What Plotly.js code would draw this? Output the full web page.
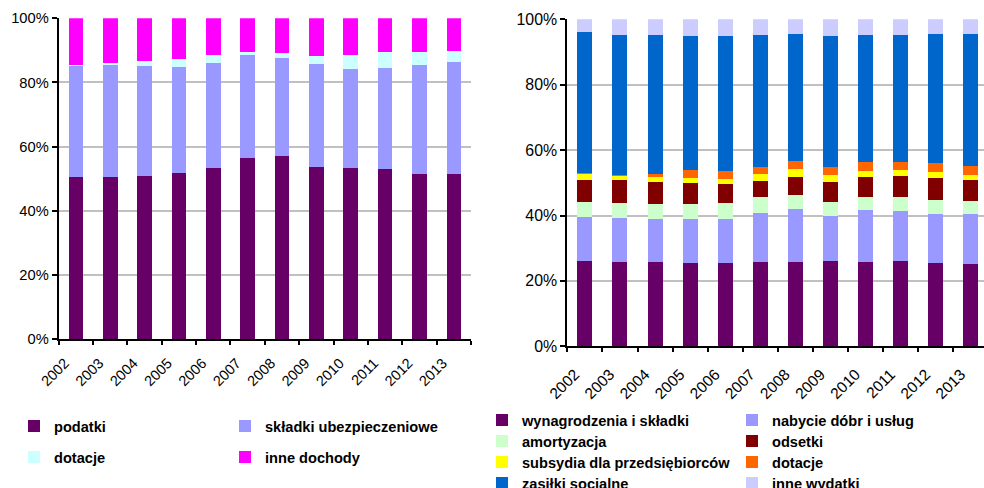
<!DOCTYPE html>
<html><head><meta charset="utf-8">
<script src="https://cdn.plot.ly/plotly-3.0.1.min.js"></script>
<style>html,body{margin:0;padding:0;overflow:hidden;background:#fff;width:984px;height:488px}#c{width:990px;height:500px}</style>
</head><body><div id="c"></div>
<script>
const years = ['2002','2003','2004','2005','2006','2007','2008','2009','2010','2011','2012','2013'];
// Left chart: revenues structure (%)
const podatki = [50.5,50.5,50.8,51.8,53.3,56.4,57.1,53.6,53.3,53.0,51.5,51.5];
const skladkiUbezp = [34.7,34.9,34.3,33.0,32.8,32.2,30.5,32.1,30.9,31.5,33.9,34.9];
const dotacjeDoch = [0.2,0.7,1.6,2.5,2.5,0.9,1.6,2.5,4.4,5.0,4.1,3.4];
const inneDochody = [14.6,13.9,13.3,12.7,11.4,10.5,10.8,11.8,11.4,10.5,10.5,10.2];
// Right chart: expenditure structure (%)
const wynagrodzenia = [26.1,25.8,25.8,25.5,25.5,25.8,25.8,26.1,25.8,26.1,25.5,25.2];
const nabycie = [13.5,13.5,13.2,13.5,13.5,15.0,16.2,13.8,15.9,15.3,15.0,15.3];
const amortyzacja = [4.6,4.6,4.6,4.6,4.9,4.9,4.3,4.3,4.0,4.3,4.3,4.0];
const odsetki = [6.7,7.0,6.7,6.4,5.8,4.9,5.5,6.1,6.1,6.4,6.7,6.4];
const subsydia = [1.9,1.3,1.5,1.5,1.5,2.2,2.5,2.1,1.9,1.9,1.9,1.5];
const dotacjeWyd = [0.1,0.2,1.0,2.5,2.5,2.1,2.4,2.5,2.7,2.4,2.7,2.8];
const zasilki = [43.2,42.8,42.4,40.9,41.2,40.3,38.8,40.0,38.8,38.8,39.4,40.3];
const inneWydatki = [3.9,4.8,4.8,5.1,5.1,4.8,4.5,5.1,4.8,4.8,4.5,4.5];

const W = 990, H = 500;
const fontFam = 'Arial, "Liberation Sans", sans-serif';
const layout = {
  width:W, height:H, margin:{l:0,r:0,t:0,b:0,autoexpand:false},
  paper_bgcolor:'#fff', plot_bgcolor:'#fff', barmode:'stack', bargap:0.575,
  font:{family:fontFam, color:'#000'}, showlegend:true
};
let legN = 0;
function bar(name, y, color, xa, ya, lx, ly){
  legN++;
  const id = legN === 1 ? 'legend' : 'legend' + legN;
  layout[id] = {orientation:'h', x:(lx-40)/W, y:(H-ly)/H, xanchor:'left', yanchor:'middle',
    borderwidth:0, bgcolor:'rgba(0,0,0,0)',
    font:{family:fontFam, size:14.6, color:'#000', weight:'bold'}};
  return {type:'bar', name:name, x:years, y:y, xaxis:xa, yaxis:ya,
    marker:{color:color, line:{width:0}}, legend:id, hoverinfo:'skip'};
}
const data = [
  bar('podatki', podatki, '#660066', 'x', 'y', 54, 426),
  bar('składki ubezpieczeniowe', skladkiUbezp, '#9999FF', 'x', 'y', 265, 426),
  bar('dotacje', dotacjeDoch, '#CCFFFF', 'x', 'y', 54, 457),
  bar('inne dochody', inneDochody, '#FF00FF', 'x', 'y', 265, 457),
  bar('wynagrodzenia i składki', wynagrodzenia, '#660066', 'x2', 'y2', 522, 420),
  bar('nabycie dóbr i usług', nabycie, '#9999FF', 'x2', 'y2', 772, 420),
  bar('amortyzacja', amortyzacja, '#CCFFCC', 'x2', 'y2', 522, 441),
  bar('odsetki', odsetki, '#800000', 'x2', 'y2', 772, 441),
  bar('subsydia dla przedsiębiorców', subsydia, '#FFFF00', 'x2', 'y2', 522, 462),
  bar('dotacje', dotacjeWyd, '#FF6600', 'x2', 'y2', 772, 462),
  bar('zasiłki socjalne', zasilki, '#0066CC', 'x2', 'y2', 522, 483),
  bar('inne wydatki', inneWydatki, '#CCCCFF', 'x2', 'y2', 772, 483)
];
function xax(domain, anchor, fs, shift, standoff){
  return {domain:domain, anchor:anchor, type:'category', range:[-0.5, 11.5],
    tickson:'boundaries', ticks:'outside', ticklen:4, tickwidth:2, tickcolor:'#000',
    tickangle:-45, ticklabelshift:shift, ticklabelstandoff:standoff,
    showline:true, linecolor:'#000', linewidth:2, showgrid:false,
    tickfont:{family:fontFam, size:fs, color:'#000'}, fixedrange:true};
}
function yax(domain, anchor, fs){
  return {domain:domain, anchor:anchor, range:[0,100], dtick:20, ticksuffix:'%',
    ticks:'outside', ticklen:5, tickwidth:2, tickcolor:'#000',
    showline:true, linecolor:'#000', linewidth:2, showgrid:true, gridcolor:'#C0C0C0', gridwidth:2,
    zeroline:false, tickfont:{family:fontFam, size:fs, color:'#000'}, fixedrange:true};
}
layout.xaxis = xax([58.7/W, 471/W], 'y', 14.5, -11, 8);
layout.yaxis = yax([(H-339)/H, (H-18.3)/H], 'x', 14.7);
layout.xaxis2 = xax([567.3/W, 988.5/W], 'y2', 15.5, -10, 11);
layout.yaxis2 = yax([(H-346.3)/H, (H-19.3)/H], 'x2', 15.9);
Plotly.newPlot('c', data, layout, {displayModeBar:false, staticPlot:true});
</script></body></html>
